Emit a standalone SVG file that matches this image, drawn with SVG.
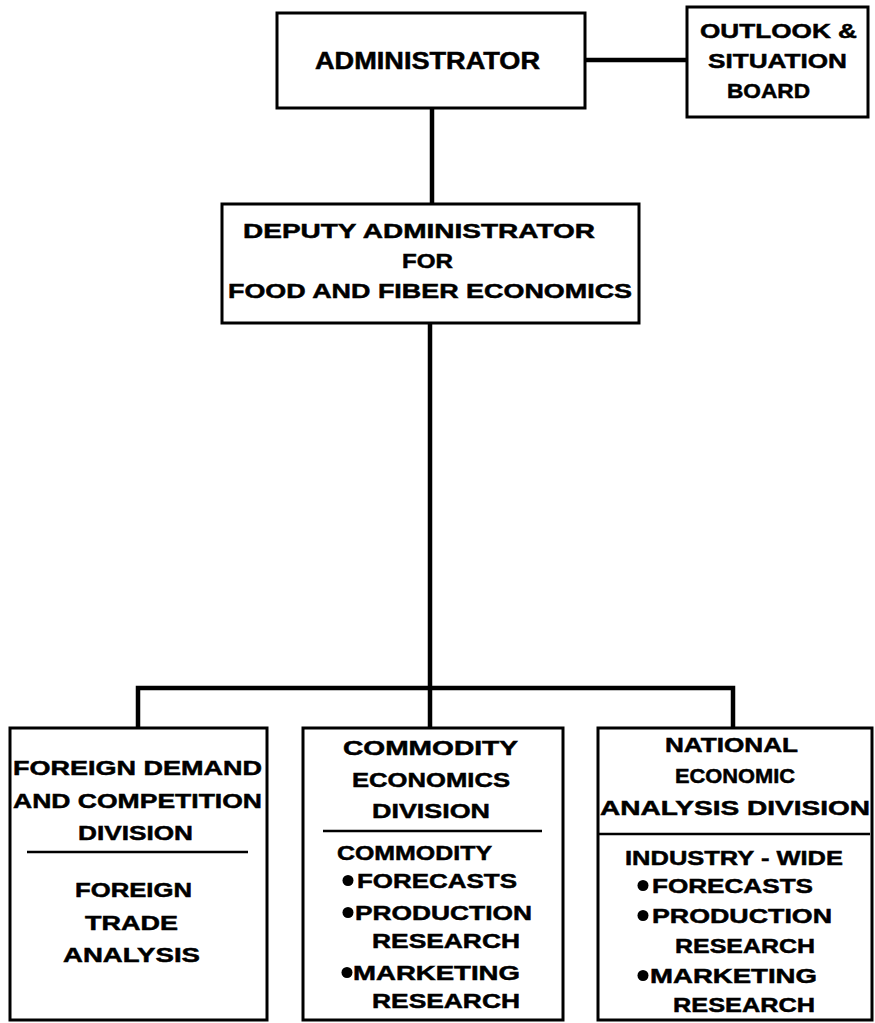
<svg xmlns="http://www.w3.org/2000/svg" width="875" height="1023" viewBox="0 0 875 1023">
<style>
.box{fill:#fff;stroke:#000;stroke-width:3}
.sep{stroke:#000;stroke-width:2.5}
.con{fill:none;stroke:#000;stroke-width:4.5;stroke-linejoin:miter}
text{font-family:"Liberation Sans",Arial,sans-serif;font-weight:bold;font-size:21px;fill:#000;stroke:#000;stroke-width:0.5}
.big{font-size:23px}
.dot{fill:#000}
</style>
<rect width="875" height="1023" fill="#fff"/>
<g id="connectors">
<path class="con" d="M585 60 H687"/>
<path class="con" d="M432 108 V204"/>
<path class="con" d="M430 323 V728"/>
<path class="con" d="M138 728 V688 H733 V728"/>
</g>
<g id="administrator">
<rect class="box" x="277" y="13" width="308" height="95"/>
<text class="big" x="315" y="69" textLength="225" lengthAdjust="spacingAndGlyphs">ADMINISTRATOR</text>
</g>
<g id="outlook">
<rect class="box" x="687" y="7" width="181" height="110"/>
<text x="700" y="38" textLength="157" lengthAdjust="spacingAndGlyphs">OUTLOOK &amp;</text>
<text x="708" y="68" textLength="139" lengthAdjust="spacingAndGlyphs">SITUATION</text>
<text x="727" y="98" textLength="83" lengthAdjust="spacingAndGlyphs">BOARD</text>
</g>
<g id="deputy">
<rect class="box" x="222" y="204" width="417" height="119"/>
<text x="243" y="238" textLength="352" lengthAdjust="spacingAndGlyphs">DEPUTY ADMINISTRATOR</text>
<text x="402" y="268" textLength="51" lengthAdjust="spacingAndGlyphs">FOR</text>
<text x="228" y="298" textLength="404" lengthAdjust="spacingAndGlyphs">FOOD AND FIBER ECONOMICS</text>
</g>
<g id="foreign">
<rect class="box" x="10" y="728" width="257" height="292"/>
<text x="13" y="775" textLength="249" lengthAdjust="spacingAndGlyphs">FOREIGN DEMAND</text>
<text x="13" y="808" textLength="249" lengthAdjust="spacingAndGlyphs">AND COMPETITION</text>
<text x="78" y="840" textLength="115" lengthAdjust="spacingAndGlyphs">DIVISION</text>
<line class="sep" x1="27" y1="852" x2="248" y2="852"/>
<text x="75" y="897" textLength="117" lengthAdjust="spacingAndGlyphs">FOREIGN</text>
<text x="85" y="930" textLength="93" lengthAdjust="spacingAndGlyphs">TRADE</text>
<text x="63" y="962" textLength="137" lengthAdjust="spacingAndGlyphs">ANALYSIS</text>
</g>
<g id="commodity">
<rect class="box" x="303" y="728" width="260" height="292"/>
<text x="343" y="755" textLength="175" lengthAdjust="spacingAndGlyphs">COMMODITY</text>
<text x="352" y="787" textLength="158" lengthAdjust="spacingAndGlyphs">ECONOMICS</text>
<text x="372" y="818" textLength="118" lengthAdjust="spacingAndGlyphs">DIVISION</text>
<line class="sep" x1="323" y1="831" x2="542" y2="831"/>
<text x="337" y="860" textLength="155" lengthAdjust="spacingAndGlyphs">COMMODITY</text>
<circle class="dot" cx="348" cy="880.5" r="5.5"/>
<text x="357" y="888" textLength="160" lengthAdjust="spacingAndGlyphs">FORECASTS</text>
<circle class="dot" cx="348" cy="912.5" r="5.5"/>
<text x="355" y="920" textLength="177" lengthAdjust="spacingAndGlyphs">PRODUCTION</text>
<text x="372" y="948" textLength="148" lengthAdjust="spacingAndGlyphs">RESEARCH</text>
<circle class="dot" cx="347" cy="972.5" r="5.5"/>
<text x="353" y="980" textLength="167" lengthAdjust="spacingAndGlyphs">MARKETING</text>
<text x="372" y="1008" textLength="148" lengthAdjust="spacingAndGlyphs">RESEARCH</text>
</g>
<g id="national">
<rect class="box" x="598" y="728" width="274" height="292"/>
<text x="665" y="752" textLength="133" lengthAdjust="spacingAndGlyphs">NATIONAL</text>
<text x="675" y="783" textLength="120" lengthAdjust="spacingAndGlyphs">ECONOMIC</text>
<text x="600" y="815" textLength="270" lengthAdjust="spacingAndGlyphs">ANALYSIS DIVISION</text>
<line class="sep" x1="598" y1="834" x2="870" y2="834"/>
<text x="625" y="865" textLength="218" lengthAdjust="spacingAndGlyphs">INDUSTRY - WIDE</text>
<circle class="dot" cx="643" cy="885.5" r="5.5"/>
<text x="652" y="893" textLength="161" lengthAdjust="spacingAndGlyphs">FORECASTS</text>
<circle class="dot" cx="643" cy="915.5" r="5.5"/>
<text x="652" y="923" textLength="180" lengthAdjust="spacingAndGlyphs">PRODUCTION</text>
<text x="675" y="953" textLength="140" lengthAdjust="spacingAndGlyphs">RESEARCH</text>
<circle class="dot" cx="643" cy="975.5" r="5.5"/>
<text x="650" y="983" textLength="167" lengthAdjust="spacingAndGlyphs">MARKETING</text>
<text x="673" y="1012" textLength="142" lengthAdjust="spacingAndGlyphs">RESEARCH</text>
</g>
</svg>
